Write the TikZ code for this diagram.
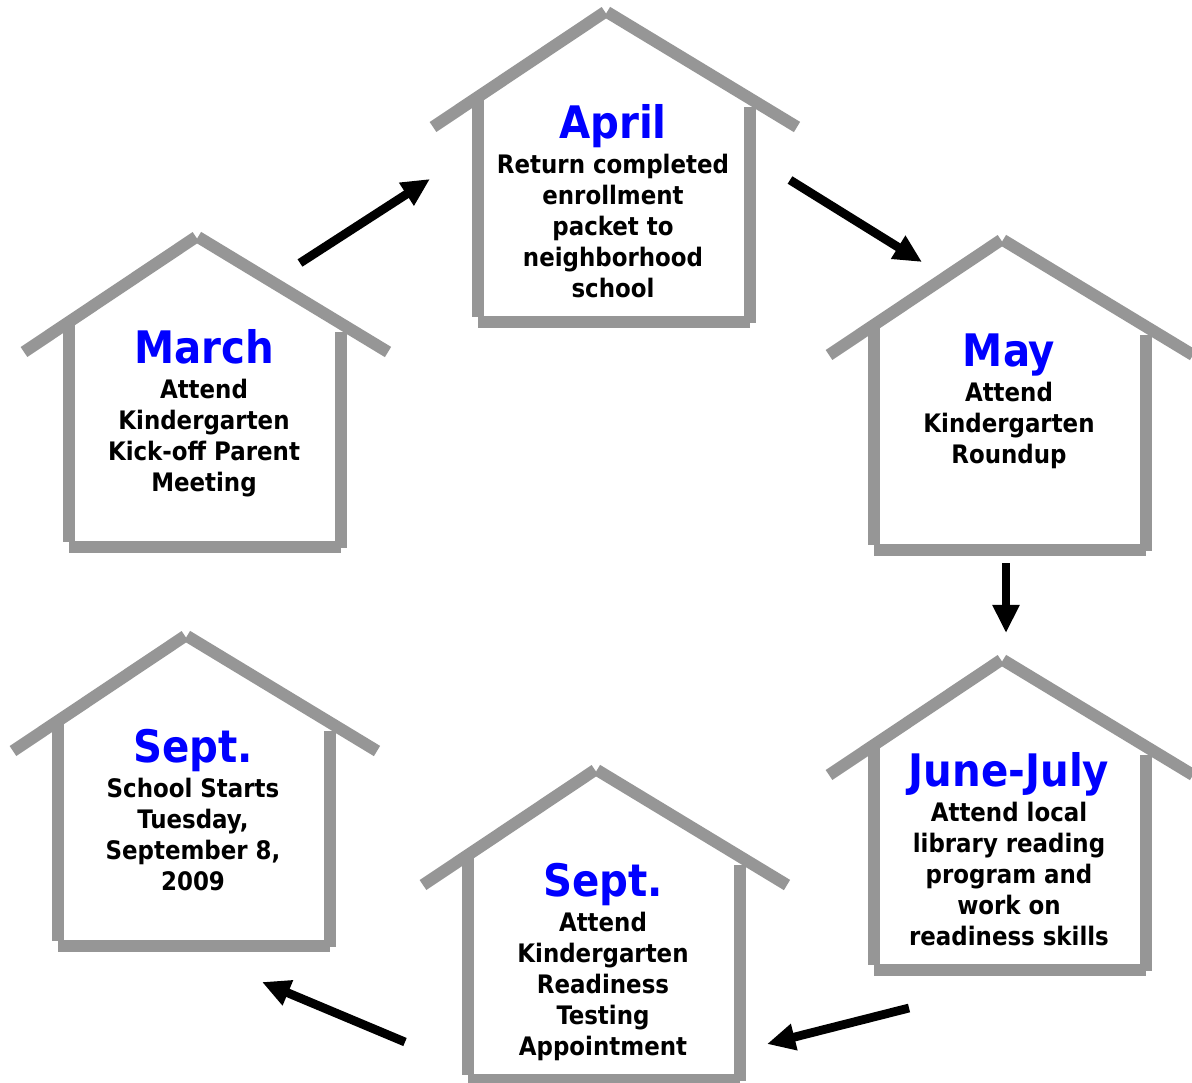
\documentclass[tikz,border=0pt]{standalone}
\usepackage{fontspec}
\setmainfont{DejaVu Sans Condensed}
\usetikzlibrary{arrows.meta,positioning}
\definecolor{wallgray}{RGB}{150,150,150}
\definecolor{monthblue}{RGB}{0,0,255}
\tikzset{
  wall/.style={draw=wallgray,line width=0.24cm,line cap=butt},
  monthtitle/.style={anchor=base,text=monthblue,inner sep=0pt,
    font=\fontsize{25.5}{28}\selectfont\bfseries},
  monthtext/.style={anchor=north,align=center,inner sep=0pt,
    font=\fontsize{14.5}{17.6}\selectfont\bfseries},
  flow/.style={line width=5pt,-{Triangle[length=16pt,width=14.5pt]}},
}
% house: name, peak x, peak y, month, text
\newcommand{\kghouse}[5]{%
  \begin{scope}[shift={(#2,#3)}]
    \draw[wall] (-173,115) -- (-1,0);
    \draw[wall] (1,0) -- (191,115);
    \draw[wall] (-128,88) -- (-128,305);
    \draw[wall] (144,95) -- (144,311);
    \draw[wall] (-128,310) -- (144,310);
    \node[monthtitle] (#1) at (7,126) {#4};
    \node[monthtext] (#1-text) at (7,142) {#5};
  \end{scope}}
\begin{document}
\begin{tikzpicture}[x=0.02cm,y=-0.02cm]
  \useasboundingbox (0,0) rectangle (1192,1082);
  \clip (0,0) rectangle (1192,1082);
  \kghouse{march}{197}{237}{March}{Attend\\Kindergarten\\Kick-off Parent\\Meeting}
  \kghouse{april}{606}{12}{April}{Return completed\\enrollment\\packet to\\neighborhood\\school}
  \kghouse{may}{1002}{240}{May}{Attend\\Kindergarten\\Roundup}
  \kghouse{june}{1002}{660}{June-July}{Attend local\\library reading\\program and\\work on\\readiness skills}
  \kghouse{septa}{596}{770}{Sept.}{Attend\\Kindergarten\\Readiness\\Testing\\Appointment}
  \kghouse{septb}{186}{636}{Sept.}{School Starts\\Tuesday,\\September 8,\\2009}
  % arrow ends
  \coordinate (ma1) at (300,263);  \coordinate (ma2) at (430,179);
  \coordinate (am1) at (790,180);  \coordinate (am2) at (922,262);
  \coordinate (mj1) at (1006,563); \coordinate (mj2) at (1006,633);
  \coordinate (js1) at (909,1008); \coordinate (js2) at (767,1044);
  \coordinate (ss1) at (405,1042); \coordinate (ss2) at (262,982);
  \draw[flow] (ma1) -- (ma2);
  \draw[flow] (am1) -- (am2);
  \draw[flow] (mj1) -- (mj2);
  \draw[flow] (js1) -- (js2);
  \draw[flow] (ss1) -- (ss2);
\end{tikzpicture}
\end{document}
